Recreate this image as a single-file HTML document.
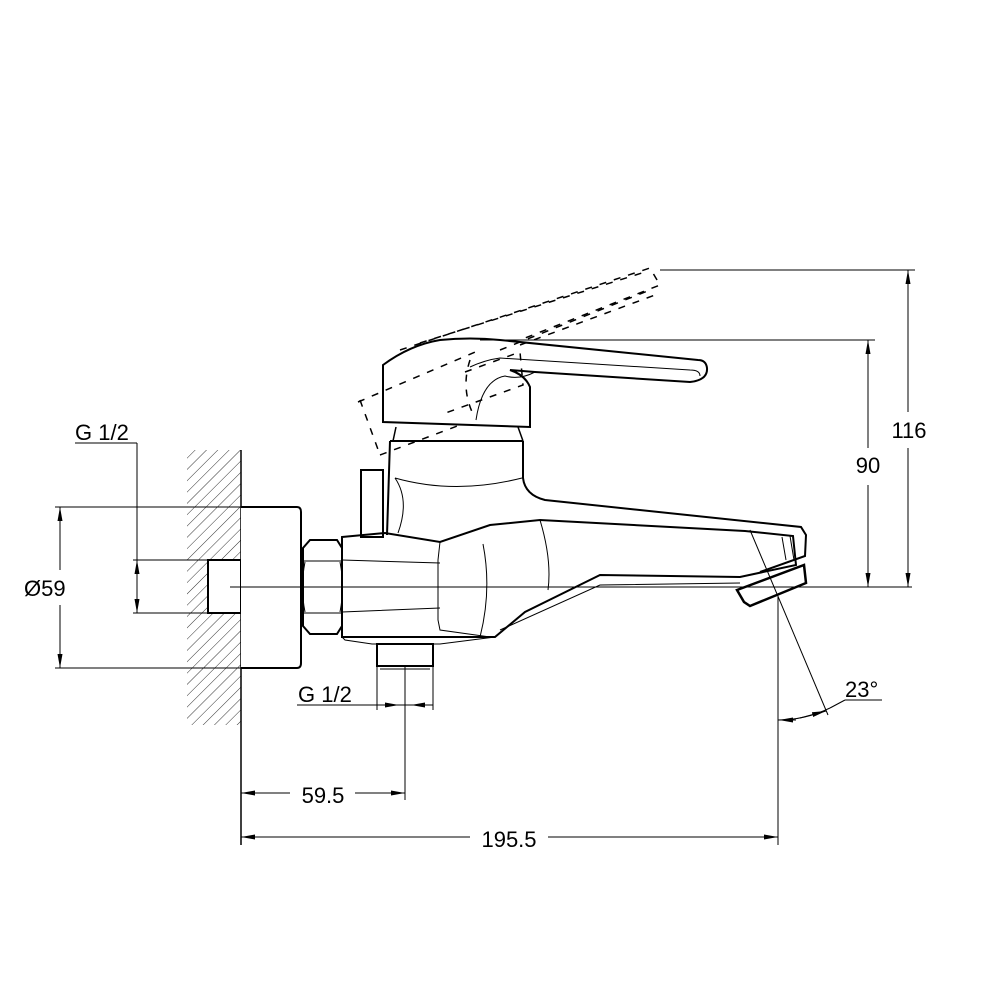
<!DOCTYPE html>
<html><head><meta charset="utf-8"><style>
html,body{margin:0;padding:0;background:#fff}
svg{display:block}
text{font-family:"Liberation Sans",Arial,sans-serif;fill:#000}
</style></head><body>
<svg width="982" height="982" viewBox="0 0 982 982" xmlns="http://www.w3.org/2000/svg">
<defs>
<pattern id="h" patternUnits="userSpaceOnUse" width="8" height="8" patternTransform="rotate(45)">
<line x1="0" y1="0" x2="0" y2="8" stroke="#000" stroke-width="0.8"/>
</pattern>
<marker id="a" markerWidth="14" markerHeight="6" refX="14" refY="3" orient="auto-start-reverse" markerUnits="userSpaceOnUse">
<path d="M14,3 L0,0.5 L0,5.5 Z" fill="#000"/>
</marker>
</defs>
<g fill="none" stroke="#000" stroke-width="1">
<rect x="187" y="450" width="54" height="275" fill="url(#h)" stroke="none"/>
<line x1="241" y1="450" x2="241" y2="845" stroke-width="1.5"/>
<rect x="208" y="560" width="33" height="53" fill="#fff" stroke-width="2"/>
<path d="M241,507 H297 Q301,507 301,512 V663 Q301,668 297,668 H241" fill="#fff" stroke-width="2"/>
<path d="M310,540 H337 L342,548 V626 L337,634 H310 L303,626 V548 Z" fill="#fff" stroke-width="2"/>
<path d="M304,561 H341 M304,613 H341 M305,562 Q300,587 305,612 M340,562 Q345,587 340,612"/>
<line x1="55" y1="507" x2="241" y2="507"/>
<line x1="55" y1="668" x2="241" y2="668"/>
<line x1="60" y1="507" x2="60" y2="570" marker-start="url(#a)"/>
<line x1="60" y1="605" x2="60" y2="668" marker-end="url(#a)"/>
<line x1="75" y1="443" x2="137" y2="443"/>
<line x1="137" y1="443" x2="137" y2="613"/>
<line x1="133" y1="560" x2="208" y2="560"/>
<line x1="133" y1="613" x2="208" y2="613"/>
<line x1="137" y1="580" x2="137" y2="560" marker-end="url(#a)"/>
<line x1="137" y1="593" x2="137" y2="613" marker-end="url(#a)"/>
<line x1="230" y1="587" x2="912" y2="587"/>
<rect x="361" y="470" width="22" height="67" stroke-width="2"/>
<path d="M390,441 L387,535 M523,441 V478 Q525,495 545,500 L801,527 L806,535 L805,556 L760,572" stroke-width="2"/>
<path d="M395,478 Q455,495 522,478"/>
<path d="M395,478 Q410,500 398,533"/>
<line x1="390" y1="441" x2="523" y2="441" stroke-width="2"/>
<path d="M342,537 L385,533 L440,542 L490,525 L540,520 L745,531 L793,536 L796,565 L740,577 L600,575 L525,612 L495,637 L420,637 L342,637 Z" stroke-width="2"/>
<path d="M440,542 L438,560 L438,620 L440,630 L490,637"/>
<path d="M342,560 L440,563 M342,612 L440,608"/>
<path d="M483,544 Q492,590 480,637 M540,520 Q552,560 548,590"/>
<path d="M500,630 L600,585 L740,583"/>
<path d="M342,637 L345,640 L372,644 L440,644 L495,637"/>
<path d="M737,590 L804,565 L806,583 L750,606 L744,602 Z" stroke-width="2.5"/>
<path d="M782,537 L786,560 M790,536 L794,560"/>
<rect x="377" y="644" width="56" height="22" stroke-width="2"/>
<line x1="380" y1="669" x2="430" y2="669"/>
<line x1="377" y1="666" x2="377" y2="710"/>
<line x1="433" y1="666" x2="433" y2="710"/>
<line x1="405" y1="666" x2="405" y2="800"/>
<line x1="297" y1="705" x2="433" y2="705"/>
<line x1="380" y1="705" x2="399" y2="705" marker-end="url(#a)"/>
<line x1="430" y1="705" x2="411" y2="705" marker-end="url(#a)"/>
<path d="M383,365 L383,422 L530,427 L530,387 Q525,375 510,370 L535,372 L690,382 Q708,380 707,368 Q706,360 698,360 L500,340 Q470,337 440,340 Q410,345 383,365 Z" stroke-width="2"/>
<path d="M470,367 Q485,360 500,358 L690,370 Q700,370 700,376 M535,372 Q520,380 505,376 Q482,380 476,420"/>
<path d="M396,427 L393,441 M518,427 L523,441" stroke-width="1.5"/>
<g stroke-dasharray="7,8" stroke-width="1.5">
<path d="M360,400 L380,455 M358,402 L480,350 M400,350 L650,268 L660,285 L520,340"/>
<path d="M420,343 L645,272 M465,372 L520,352 L523,385 L440,415 M380,455 L460,425 M470,360 Q460,390 475,418"/>
<path d="M500,350 L650,290 M520,345 L655,295"/>
</g>
<line x1="660" y1="270" x2="915" y2="270"/>
<line x1="480" y1="340" x2="875" y2="340"/>
<line x1="868" y1="340" x2="868" y2="448" marker-start="url(#a)"/>
<line x1="868" y1="485" x2="868" y2="587" marker-end="url(#a)"/>
<line x1="908" y1="270" x2="908" y2="412" marker-start="url(#a)"/>
<line x1="908" y1="448" x2="908" y2="587" marker-end="url(#a)"/>
<line x1="750" y1="530" x2="828" y2="715"/>
<line x1="778" y1="597" x2="778" y2="845"/>
<path d="M778,720 Q805,720 830,708"/>
<line x1="796" y1="720" x2="779" y2="720" marker-end="url(#a)"/>
<line x1="800" y1="718" x2="826" y2="711" marker-end="url(#a)"/>
<line x1="830" y1="708" x2="845" y2="700"/>
<line x1="845" y1="700" x2="882" y2="700"/>
<line x1="241" y1="793" x2="290" y2="793" marker-start="url(#a)"/>
<line x1="355" y1="793" x2="405" y2="793" marker-end="url(#a)"/>
<line x1="241" y1="837" x2="470" y2="837" marker-start="url(#a)"/>
<line x1="548" y1="837" x2="778" y2="837" marker-end="url(#a)"/>
</g>
<g font-size="22">
<text x="75" y="440">G 1/2</text>
<text x="24" y="596">Ø59</text>
<text x="298" y="702">G 1/2</text>
<text x="845" y="697">23°</text>
<text x="868" y="473" text-anchor="middle">90</text>
<text x="909" y="438" text-anchor="middle">116</text>
<text x="323" y="803" text-anchor="middle">59.5</text>
<text x="509" y="847" text-anchor="middle">195.5</text>
</g>
</svg>
</body></html>
